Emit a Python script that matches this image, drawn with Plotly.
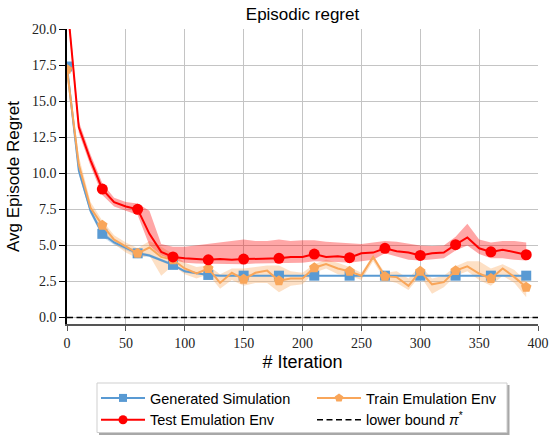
import plotly.graph_objects as go

iterations = list(range(0, 400, 10))

gen_sim = [17.4, 10.2, 7.4, 5.8, 5.2, 4.85, 4.45, 4.3, 4.0, 3.65, 3.2, 3.05, 2.95, 2.9, 2.9,
           2.9, 2.9, 2.9, 2.9, 2.9, 2.9, 2.9, 2.9, 2.9, 2.9, 2.9, 2.9, 2.9, 2.9, 2.9,
           2.9, 2.9, 2.9, 2.9, 2.9, 2.9, 2.9, 2.9, 2.9, 2.9]
gen_sim_upper = [17.8, 10.5, 7.6, 6.0, 5.35, 5.0, 4.6, 4.4, 4.1, 3.75, 3.3, 3.12, 3.0, 2.95, 2.95,
                 2.95, 2.95, 2.95, 2.95, 2.95, 2.95, 2.95, 2.95, 2.95, 2.95, 2.95, 2.95, 2.95, 2.95, 2.95,
                 2.95, 2.95, 2.95, 2.95, 2.95, 2.95, 2.95, 2.95, 2.95, 2.95]
gen_sim_lower = [17.0, 9.9, 7.2, 5.6, 5.05, 4.7, 4.3, 4.2, 3.9, 3.55, 3.1, 2.98, 2.9, 2.85, 2.85,
                 2.85, 2.85, 2.85, 2.85, 2.85, 2.85, 2.85, 2.85, 2.85, 2.85, 2.85, 2.85, 2.85, 2.85, 2.85,
                 2.85, 2.85, 2.85, 2.85, 2.85, 2.85, 2.85, 2.85, 2.85, 2.85]

test_emu = [22.0, 13.2, 10.9, 8.9, 8.0, 7.7, 7.5, 5.8, 4.55, 4.2, 4.1, 4.05, 4.0, 4.05, 4.0,
            4.05, 4.05, 4.1, 4.1, 4.2, 4.2, 4.4, 4.2, 4.25, 4.15, 4.45, 4.5, 4.8, 4.6, 4.5,
            4.3, 4.45, 4.5, 5.05, 5.55, 4.8, 4.55, 4.7, 4.5, 4.35]
test_emu_upper = [22.5, 13.6, 11.3, 9.3, 8.3, 8.0, 7.9, 7.4, 5.1, 4.9, 4.9, 5.0, 5.1, 5.2, 5.3,
                  5.4, 5.3, 5.3, 5.4, 5.3, 5.35, 5.35, 5.25, 5.2, 5.15, 5.1, 5.2, 5.3, 5.25, 5.1,
                  5.0, 4.95, 5.0, 5.6, 6.5, 5.4, 5.2, 5.3, 5.3, 5.2]
test_emu_lower = [21.5, 12.8, 10.5, 8.5, 7.7, 7.4, 7.1, 5.0, 4.3, 4.0, 3.8, 3.75, 3.7, 3.75, 3.7,
                  3.7, 3.75, 3.75, 3.75, 3.8, 3.8, 3.9, 3.85, 3.85, 3.8, 3.9, 4.0, 4.45, 4.2, 4.0,
                  3.95, 4.0, 4.1, 4.65, 5.0, 4.4, 4.1, 4.1, 4.0, 3.95]

train_emu = [17.2, 10.6, 7.6, 6.4, 5.4, 4.9, 4.45, 4.85, 4.2, 4.0, 3.4, 3.05, 3.4, 2.4, 3.1,
             2.65, 3.1, 3.25, 2.55, 2.7, 2.7, 3.45, 3.7, 3.4, 3.2, 2.9, 4.2, 2.85, 2.8, 2.2,
             3.2, 2.3, 2.45, 3.25, 3.55, 3.05, 2.7, 3.4, 2.8, 2.1]
train_emu_upper = [17.6, 11.2, 8.0, 6.7, 5.7, 5.2, 4.8, 5.3, 4.9, 4.4, 3.8, 3.5, 3.6, 3.0, 3.4,
                   3.4, 3.5, 3.6, 3.6, 3.2, 3.1, 3.7, 4.0, 3.8, 3.5, 3.1, 4.3, 3.1, 3.2, 2.7,
                   3.6, 2.7, 2.9, 3.55, 3.9, 3.9, 3.4, 3.7, 3.3, 2.5]
train_emu_lower = [16.6, 10.0, 7.2, 6.1, 5.1, 4.5, 4.1, 4.3, 2.9, 3.6, 3.0, 2.7, 3.0, 2.0, 2.6,
                   2.2, 2.4, 2.4, 1.75, 2.2, 2.3, 3.1, 3.4, 3.0, 2.9, 2.6, 3.9, 2.6, 2.4, 1.9,
                   2.9, 1.65, 2.1, 2.9, 3.2, 2.6, 2.2, 2.9, 2.4, 1.4]

lower_bound = 0.0
x_range = [0, 400]
y_range = [-0.45, 20]
x_ticks = [0, 50, 100, 150, 200, 250, 300, 350, 400]
y_ticks = [0.0, 2.5, 5.0, 7.5, 10.0, 12.5, 15.0, 17.5, 20.0]

series = [
    ("Generated Simulation", gen_sim, gen_sim_upper, gen_sim_lower, "#599ad3", "square", 10),
    ("Train Emulation Env", train_emu, train_emu_upper, train_emu_lower, "#f9a65a", "pentagon", 11),
    ("Test Emulation Env", test_emu, test_emu_upper, test_emu_lower, "#ff0000", "circle", 11),
]

def rgba(hexc, a):
    h = hexc.lstrip("#")
    return "rgba(%d,%d,%d,%s)" % (int(h[0:2], 16), int(h[2:4], 16), int(h[4:6], 16), a)

fig = go.Figure()

for name, mean, up, lo, col, sym, ms in series:
    fig.add_trace(go.Scatter(
        x=iterations + iterations[::-1], y=up + lo[::-1], fill="toself",
        fillcolor=rgba(col, 0.35), line=dict(width=0), mode="lines",
        hoverinfo="skip", showlegend=False))

rank = {"Generated Simulation": 1, "Test Emulation Env": 3, "Train Emulation Env": 2}
for name, mean, up, lo, col, sym, ms in series:
    fig.add_trace(go.Scatter(x=iterations, y=mean, mode="lines",
                             line=dict(color=col, width=2), showlegend=False))
    fig.add_trace(go.Scatter(x=iterations[::3], y=mean[::3], mode="markers",
                             marker=dict(color=col, symbol=sym, size=ms, line=dict(width=0)),
                             showlegend=False))
    fig.add_trace(go.Scatter(x=[None], y=[None], mode="lines+markers", name=name,
                             line=dict(color=col, width=2),
                             marker=dict(color=col, symbol=sym, size=ms - 2, line=dict(width=0)),
                             legendrank=rank[name]))

fig.add_trace(go.Scatter(x=x_range, y=[lower_bound, lower_bound], mode="lines",
                         name="lower bound <i>π</i><sup>*</sup>",
                         line=dict(color="black", width=1.6, dash="6px,3.5px"),
                         legendrank=4))

W, H = 552, 436
PL, PR, PT, PB = 67, 538, 29, 324

def px_x(p):
    return (p - PL) / float(PR - PL)

def px_y(p):
    return (PB - p) / float(PB - PT)

# legend frame + shadow
fig.add_shape(type="rect", xref="paper", yref="paper",
              x0=px_x(99), x1=px_x(509.5), y0=px_y(435), y1=px_y(385),
              fillcolor="#a8a8a8", line=dict(width=0), layer="above")
fig.add_shape(type="rect", xref="paper", yref="paper",
              x0=px_x(97), x1=px_x(507), y0=px_y(432.5), y1=px_y(383),
              fillcolor="white", line=dict(color="#cfcfcf", width=1), layer="above")

serif = "Liberation Serif"
sans = "Liberation Sans"

fig.update_layout(
    width=W, height=H,
    margin=dict(l=PL, r=W - PR, t=PT, b=H - PB, autoexpand=False),
    paper_bgcolor="white", plot_bgcolor="white",
    title=dict(text="Episodic regret", x=0.5, xref="paper", xanchor="center",
               y=1 - 14 / H, yanchor="middle",
               font=dict(family=sans, size=17, color="black")),
    xaxis=dict(range=x_range, tickvals=x_ticks, ticktext=[str(v) for v in x_ticks],
               automargin=False,
               showgrid=True, gridcolor="#c4c4c4", gridwidth=1,
               showline=True, linecolor="#555555", linewidth=1.5,
               ticks="outside", ticklen=5, tickcolor="#555555",
               tickfont=dict(family=serif, size=14, color="#222222"),
               title=dict(text="# Iteration", font=dict(family=sans, size=18, color="black"),
                          standoff=6),
               zeroline=False),
    yaxis=dict(range=y_range, tickvals=y_ticks, ticktext=["%.1f" % v for v in y_ticks],
               automargin=False,
               showgrid=True, gridcolor="#c4c4c4", gridwidth=1,
               showline=True, linecolor="black", linewidth=1.5,
               ticks="outside", ticklen=6, tickcolor="black",
               tickfont=dict(family=serif, size=14, color="#222222"),
               title=dict(text="Avg Episode Regret", font=dict(family=sans, size=17, color="black"),
                          standoff=8),
               zeroline=False),
    legend=dict(orientation="h", xref="container", yref="container",
                x=96 / W, y=1 - 382 / H, xanchor="left", yanchor="top",
                entrywidth=157, entrywidthmode="pixels", itemwidth=44,
                borderwidth=0, bgcolor="rgba(0,0,0,0)",
                font=dict(family=sans, size=14.5, color="black"),
                traceorder="normal", tracegroupgap=0),
)

fig.write_html("out.html", config={"displayModeBar": False},
               post_script="document.body.style.margin='0';")
